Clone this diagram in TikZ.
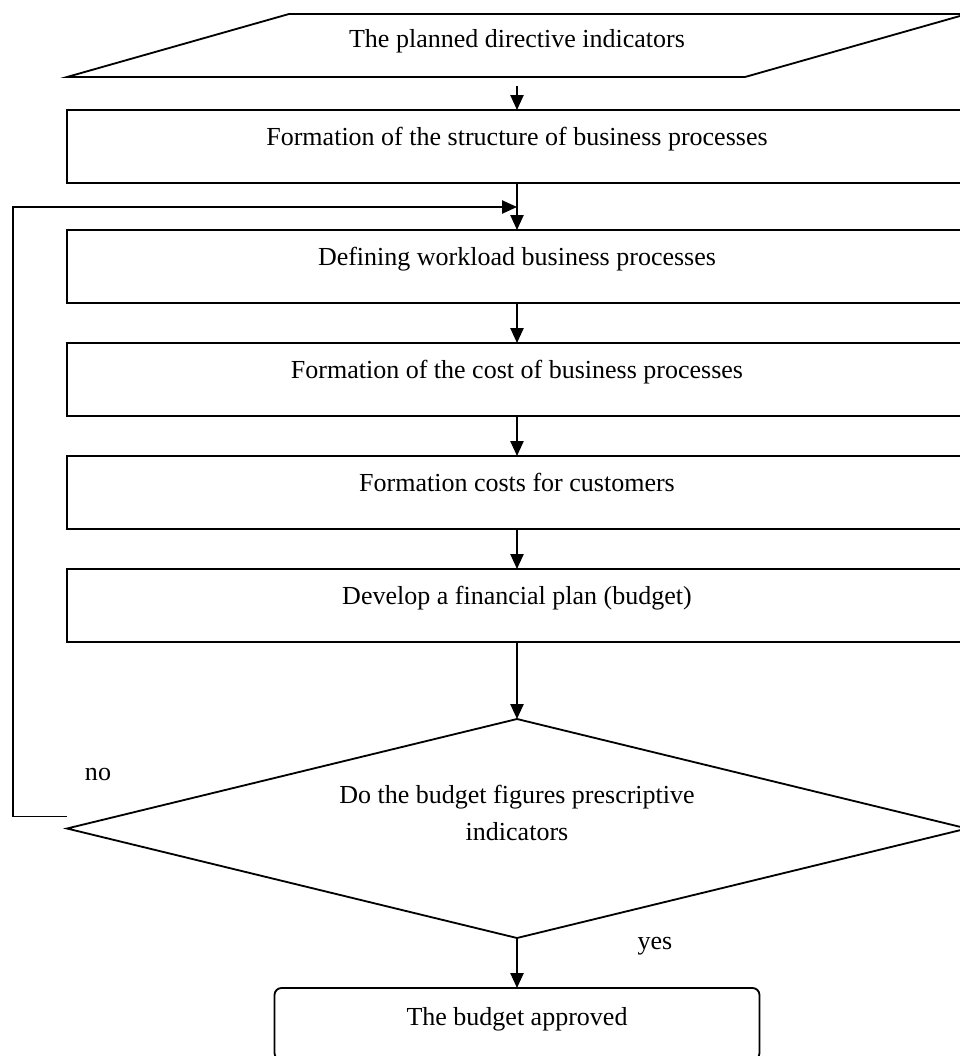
\documentclass[tikz,border=0pt]{standalone}
\usepackage{fontspec}
\setmainfont{Liberation Serif}
\usetikzlibrary{arrows.meta,positioning,shapes.geometric}

\begin{document}
\begin{tikzpicture}[
		node distance=1cm,
		line width=1.3pt,
		outer sep=0pt,
		font=\fontsize{18.5}{26}\selectfont,
		arrow/.style={-{Triangle[length=0.375cm,width=0.33cm]}},
		block/.style={draw, minimum width=22.5cm, inner sep=0pt, text height=0.875cm, text depth=0.95cm},
		decision/.style={draw, diamond, aspect=4.11, minimum width=22.5cm, minimum height=5.475cm, inner sep=0pt, align=center, text height=39pt, text depth=22.6pt},
		final/.style={draw, rounded corners=0.175cm, minimum width=12.125cm, inner sep=0pt, text height=0.925cm, text depth=0.875cm},
	]
		\useasboundingbox (0,0) rectangle (23.975,-26.4);
		\node (pd) at (12.925,-1.1375) [minimum width=16.95cm, inner sep=0pt, text height=0.825cm, text depth=0.75cm] {The planned directive indicators};
		\draw ([xshift=-2.775cm]pd.south west) -- ([xshift=2.775cm]pd.north west) -- ([xshift=2.775cm]pd.north east) -- ([xshift=-2.775cm]pd.south east) -- cycle;
		\node (fs) [block, below=0.825cm of pd] {Formation of the structure of business processes};
		\node (dw) [block, below=1.175cm of fs] {Defining workload business processes};
		\node (fc) [block, below=of dw] {Formation of the cost of business processes};
		\node (cc) [block, below=of fc] {Formation costs for customers};
		\node (fp) [block, below=of cc] {Develop a financial plan (budget)};
		\node (chk) [decision, below=1.925cm of fp] {Do the budget figures prescriptive\\indicators};
		\node (ba) [final, below=1.25cm of chk] {The budget approved};
		\node (no) at ([xshift=0.775cm, yshift=1.35cm]chk.west) {no};
		\node (yes) at ([xshift=3.45cm, yshift=-0.2cm]chk.south) {yes};
		\coordinate (join) at ([yshift=-0.6cm]fs.south);
		
		\draw[arrow, shorten <=0.225cm] (pd.south) -- (fs.north);
		\draw[arrow] (fs.south) -- (dw.north);
		\draw[arrow] (dw.south) -- (fc.north);
		\draw[arrow] (fc.south) -- (cc.north);
		\draw[arrow] (cc.south) -- (fp.north);
		\draw[arrow] (fp.south) -- (chk.north);
		\draw[arrow] (chk.south) -- (ba.north);
		\draw[arrow] ([yshift=0.3cm]chk.west) -- ++(-1.35cm,0) |- (join);
	\end{tikzpicture}
\end{document}
